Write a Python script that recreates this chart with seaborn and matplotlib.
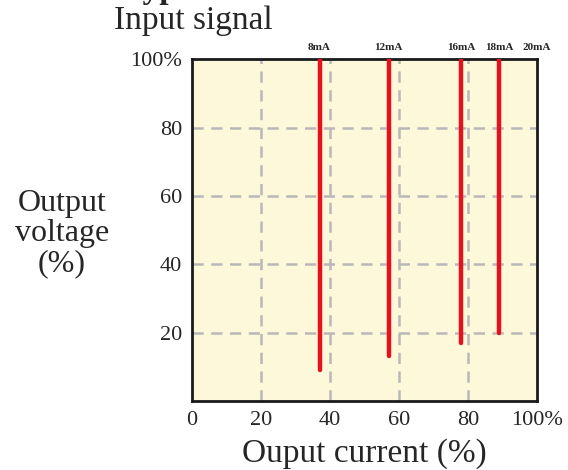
import pandas as pd
import matplotlib.pyplot as plt
import seaborn as sns

# data
signals = ['8mA', '12mA', '16mA', '18mA', '20mA']
signal_pos = [37, 57, 78, 89, 100]        # output current (%) of each signal label
line_current = [37, 57, 78, 89]           # red lines, output current (%)
line_low = [9, 13, 17, 20]                # bottom end of each line (output voltage %)
line_high = [100, 100, 100, 100]          # top end
xticks = [0, 20, 40, 60, 80, 100]
xtick_labels = ['0', '20', '40', '60', '80', '100%']
yticks = [20, 40, 60, 80, 100]
ytick_labels = ['20', '40', '60', '80', '100%']

sns.set_style('white')
plt.rcParams['font.family'] = ['Liberation Serif', 'DejaVu Serif']

# long table for lineplot
rows = []
for i in range(len(line_current)):
    rows.append({'x': line_current[i], 'y': line_low[i], 'sig': signals[i]})
    rows.append({'x': line_current[i], 'y': line_high[i], 'sig': signals[i]})
df = pd.DataFrame(rows)

fig = plt.figure(figsize=(5.68, 4.70), dpi=100)
ax = fig.add_axes([0.338, 0.147, 0.607, 0.727])
ax.set_facecolor('#fdf8da')

# dashed grid
for v in xticks[1:-1]:
    ax.axvline(v, color='#b8b8b8', lw=1.8, ls=(0, (4.5, 3)), zorder=1)
for v in yticks[:-1]:
    ax.axhline(v, color='#b8b8b8', lw=1.8, ls=(0, (4.5, 3)), zorder=1)

sns.lineplot(data=df, x='x', y='y', units='sig', estimator=None,
             color='#e8101a', lw=3.2, ax=ax, zorder=3, legend=False)

ax.set_xlim(0, 100)
ax.set_ylim(0, 100)
ax.set_xticks(xticks)
ax.set_xticklabels(xtick_labels, fontsize=16)
ax.set_yticks(yticks)
ax.set_yticklabels(ytick_labels, fontsize=16)
ax.tick_params(length=0, pad=7)
ax.set_xlabel('Ouput current (%)', fontsize=24, labelpad=6)
ax.set_ylabel('')
for s in ax.spines.values():
    s.set_color('#1a1a1a')
    s.set_linewidth(2)

# signal labels on top
for lab, p in zip(signals, signal_pos):
    ax.text(p, 102, lab, fontsize=8, fontweight='bold', ha='center', va='bottom',
            transform=ax.transData)

fig.text(0.109, 0.504, 'Output\nvoltage\n(%)', fontsize=23, ha='center', va='center',
         linespacing=1.05)
fig.text(0.34, 0.956, 'Input signal', fontsize=24, ha='center', va='center')
# heading cut off by the top edge, as in the reference
fig.text(0.34, 1.022, 'Current type', fontsize=24, fontweight='bold', ha='right', va='center')

fig.savefig('out.png', dpi=100)
